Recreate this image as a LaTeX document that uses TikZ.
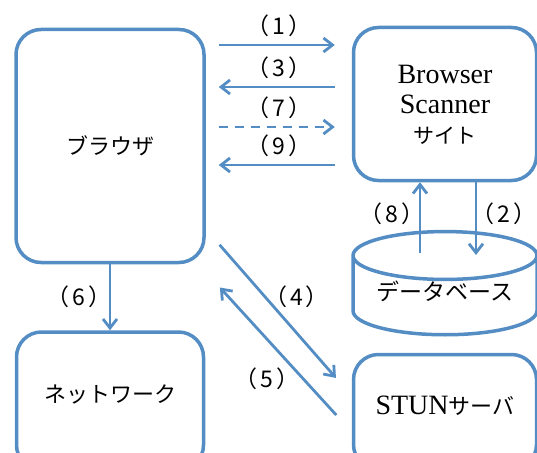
\documentclass[tikz,border=0pt]{standalone}
\usepackage{fontspec}
\usepackage{tikz}
\usetikzlibrary{arrows.meta,shapes.geometric}
\newfontfamily\jp{Noto Sans CJK JP}
\newfontfamily\serif{Liberation Serif}
\definecolor{linkblue}{RGB}{84,141,196}
\newcommand\stepno[1]{\kern-8pt（\kern3pt#1\kern3pt）\kern-8pt}

\begin{document}
\begin{tikzpicture}[x=1pt,y=-1pt]
  \tikzset{box/.style = {draw=linkblue,line width=3.5pt,rounded corners=25pt,fill=white,inner sep=0pt,font=\jp\fontsize{22}{26}\selectfont}}
  \tikzset{flow/.style = {draw=linkblue,line width=2.8pt,>={Straight Barb[length=9pt,width=14pt]}}}
  \tikzset{dashflow/.style = {dash pattern=on 9pt off 7pt}}
  \tikzset{num/.style = {font=\jp\fontsize{23}{26}\selectfont,inner sep=2pt}}
  \tikzset{latin/.style = {font=\serif\fontsize{28}{30}\selectfont}}
  \useasboundingbox (0,0) rectangle (537,452);
  \clip (0,0) rectangle (537,452);

	\node[box,minimum width=188pt,minimum height=233pt] (browser) at (110,146) {ブラウザ};
	\node[box,minimum width=183pt,minimum height=153pt,align=center,latin,text depth=-10pt] (scanner) at (445,104) {Browser\\Scanner\\{\jp\fontsize{21}{26}\selectfont サイト}};
	\node[box,minimum width=187pt,minimum height=138pt,text depth=15pt] (network) at (110,401) {ネットワーク};
	\node[box,minimum width=183pt,minimum height=115pt,text depth=13pt] (stun) at (445,412) {{\serif\fontsize{28}{30}\selectfont STUN}サーバ};
	\node[box,shape=cylinder,shape border rotate=90,aspect=0.35,rounded corners=0pt,minimum width=184pt,minimum height=93pt,text depth=10pt,font=\jp\fontsize{23}{26}\selectfont] (db) at (445,296) {データベース};

    \foreach \yy/\lab/\dir/\dsh in {45/1/->/solid, 87/3/<-/solid, 127/7/->/dashflow, 165/9/<-/solid}
    \draw[flow,\dir,\dsh,shorten <=13pt,shorten >=17pt] (browser.east |- 0,\yy) -- node[num,above=5pt]{\stepno{\lab}} (scanner.west |- 0,\yy);

    \draw[flow,->,shorten <=43pt] (db.center -| 420,0) -- node[num,pos=0.72,left=0pt]{\stepno{8}} (scanner.south -| 420,0);
    \draw[flow,->,shorten >=41pt] (scanner.south -| 476,0) -- node[num,pos=0.28,right=0pt]{\stepno{2}} (db.center -| 476,0);
    \draw[flow,->] (browser) -- node[num,left=3pt]{\stepno{6}} (network);
    \draw[flow,->,shorten <=21pt,shorten >=24pt] (browser.east |- 0,229) -- node[num,pos=0.48,above right=-2pt,xshift=-5pt]{\stepno{4}} (stun.west |- 0,396);
    \draw[flow,->,shorten <=23pt,shorten >=21pt] (stun.west |- 0,432) -- node[num,pos=0.44,below left=-2pt,xshift=5pt,yshift=-5pt]{\stepno{5}} (browser.east |- 0,272);
\end{tikzpicture}
\end{document}
